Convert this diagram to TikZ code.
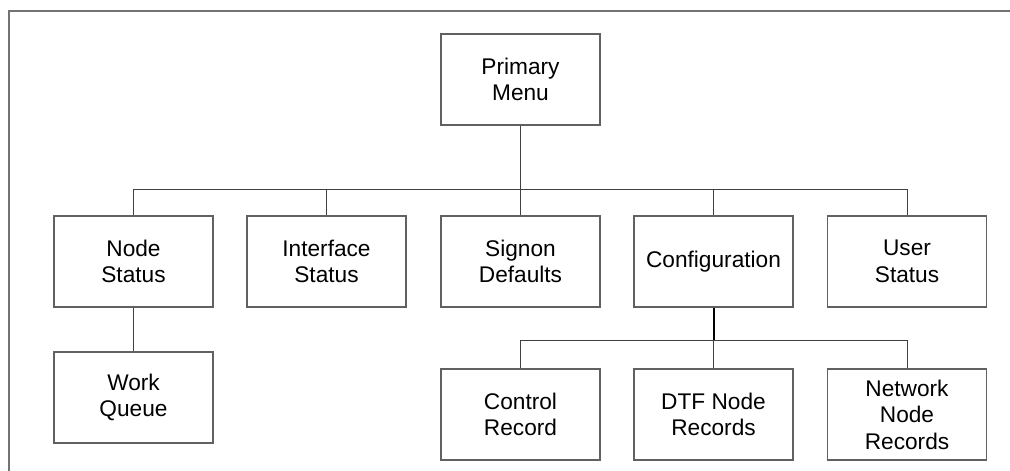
\documentclass[tikz,border=0pt]{standalone}
\usepackage{fontspec}
\setmainfont{Liberation Sans}
\usepackage{tikz}

\tikzset{
    menubox/.style={draw=black!62, line width=0.9pt, fill=white, minimum width=119.25pt,
        minimum height=68.25pt, align=center, inner sep=0pt,
        font=\fontsize{17}{19.8}\selectfont},
    link/.style={draw=black!75, line width=0.75pt}
}

\begin{document}
\begin{tikzpicture}[x=0.75pt, y=-0.75pt]
    \useasboundingbox (0,0) rectangle (1010,471);
    \draw[black!55, line width=1.5pt] (8.5,471) -- (8.5,11) -- (1010,11);
    \coordinate (busa) at (0,189);
    \coordinate (busb) at (0,340);
    \node[menubox] (primary) at (520.5,79.5) {Primary\\Menu};
    \node[menubox] (nstat) at (133.5,261.5) {Node\\Status};
    \node[menubox] (istat) at (326.5,261.5) {Interface\\Status};
    \node[menubox] (signon) at (520.5,261.5) {Signon\\Defaults};
    \node[menubox] (config) at (713.5,261.5) {Configuration};
    \node[menubox] (ustat) at (907,261.5) {User\\Status};
    \node[menubox] (work) at (133.5,397.5) {Work\\Queue};
    \node[menubox] (ctrl) at (520.5,414.5) {Control\\Record};
    \node[menubox] (dtf) at (713.5,414.5) {DTF Node\\Records};
    \node[menubox] (netw) at (907,414.5) {Network\\Node\\Records};
    % first level
    \draw[link] (primary.south) -- (primary.south |- busa);
    \draw[link] (nstat.north) -- (nstat.north |- busa) -- (ustat.north |- busa) -- (ustat.north);
    \foreach \n in {istat,signon,config}
        \draw[link] (\n.north) -- (\n.north |- busa);
    \draw[link] (nstat.south) -- (work.north);
    % second level
    \draw[black, line width=1.5pt] (config.south) -- (config.south |- busb);
    \draw[link] (ctrl.north) -- (ctrl.north |- busb) -- (netw.north |- busb) -- (netw.north);
    \draw[link] (dtf.north) -- (dtf.north |- busb);
\end{tikzpicture}
\end{document}
